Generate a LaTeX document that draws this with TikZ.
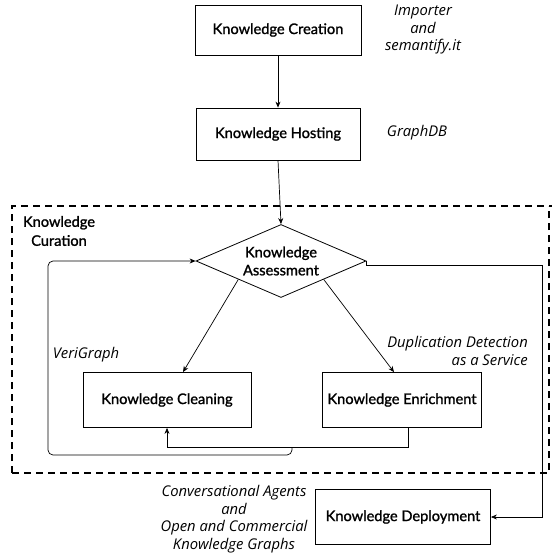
\documentclass[tikz,border=0pt]{standalone}
\usepackage{fontspec}
\setmainfont{Lato}
\newfontfamily\bxfont{Lato}[FakeBold=1.3]
\newfontfamily\itfont{Open Sans}
\usetikzlibrary{shapes.geometric,arrows.meta}
\begin{document}
\begin{tikzpicture}[x=1pt,y=-1pt,
  box/.style={draw,line width=0.8pt,inner sep=0pt,font=\bxfont\fontsize{14.6}{17}\selectfont},
  lab/.style={font=\itfont\fontsize{14.8}{17.5}\selectfont\itshape,align=center,inner sep=0pt},
  arr/.style={-{Stealth[length=6pt,width=5pt]},line width=0.7pt},
  ln/.style={line width=0.7pt}]
\useasboundingbox (0,0) rectangle (552,559);
% dashed curation region
\draw[line width=2pt,dash pattern=on 7pt off 5pt] (12,473) -- (12,206) -- (552,206);
\draw[line width=2pt,dash pattern=on 7pt off 5pt] (12,473) -- (549,473) -- (549,206);
\node[box,minimum width=166,minimum height=50] (creation) at (278,30) {Knowledge Creation};
\node[box,minimum width=164,minimum height=52] (hosting) at (278,134) {Knowledge Hosting};
\node[box,shape=diamond,aspect=2.33,minimum width=170,minimum height=73,align=center,font=\bxfont\fontsize{14.6}{18}\selectfont] (assess) at (281,261) {Knowledge\\Assessment};
\node[box,minimum width=168,minimum height=55] (cleaning) at (167,400) {Knowledge Cleaning};
\node[box,minimum width=159,minimum height=55] (enrich) at (402,400) {Knowledge Enrichment};
\node[box,minimum width=175,minimum height=55] (deploy) at (403,517) {Knowledge Deployment};
\node[align=center,inner sep=0pt,font=\bxfont\fontsize{14.6}{19}\selectfont] (curlab) at (59,231) {Knowledge\\Curation};
% labels
\node[lab] (l1) at (423,30) {Importer\\and\\semantify.it};
\node[lab] (l2) at (417,133) {GraphDB};
\node[lab] (l3) at (86,355) {VeriGraph};
\node[lab,align=right,anchor=east] (l4) at (528,351) {Duplication Detection\\as a Service};
\node[lab] (l5) at (234,519) {Conversational Agents\\and\\Open and Commercial\\Knowledge Graphs};
% connectors
\draw[arr] (creation.south) -- (hosting.north);
\draw[arr] (hosting.south) -- (assess.north);
\draw[arr] (assess.south west) -- ([xshift=16pt]cleaning.north);
\draw[arr] (assess.south east) -- ([xshift=-8pt]enrich.north);
\draw[arr] ([xshift=6pt]enrich.south) -- ++(0,19) -| (cleaning.south);
\coordinate (ls) at (292,447);
\draw[arr,rounded corners=5pt] (ls) -- (292,455) -- (48,455) -- (48,261) -- (assess.west);
\coordinate (rt) at (542,265);
\draw[arr] (assess.east) -- ++(0,4) -- (rt) |- (deploy.east);
\end{tikzpicture}
\end{document}
